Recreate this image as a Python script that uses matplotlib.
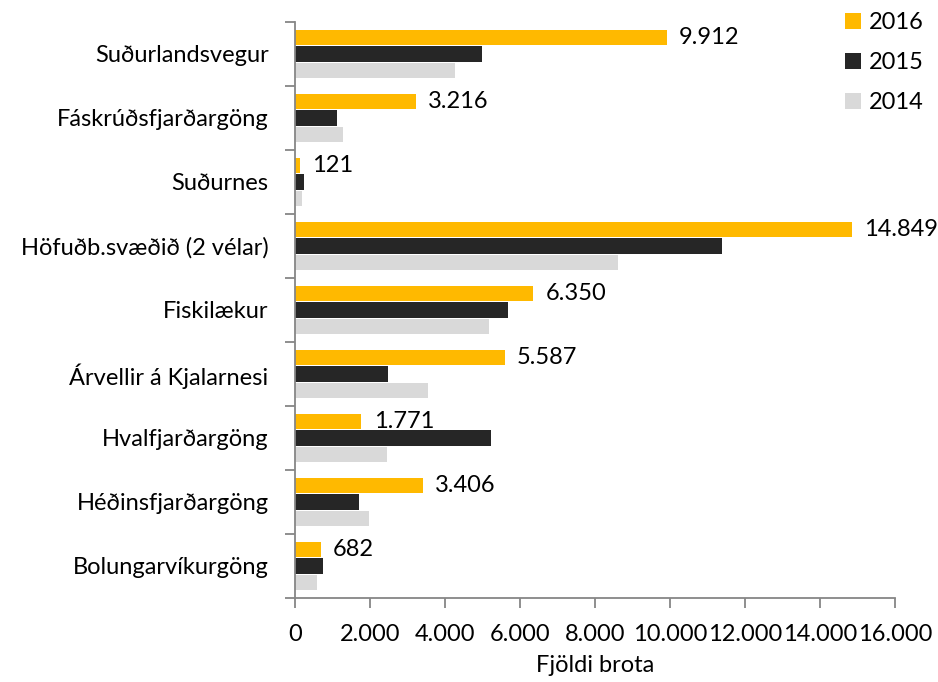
import matplotlib
matplotlib.use("Agg")
import matplotlib.pyplot as plt
import numpy as np
from matplotlib.ticker import FuncFormatter, FixedLocator

plt.rcParams['font.family'] = ['Lato', 'DejaVu Sans']

# data (top to bottom)
categories = ['Suðurlandsvegur', 'Fáskrúðsfjarðargöng', 'Suðurnes',
              'Höfuðb.svæðið (2 vélar)', 'Fiskilækur', 'Árvellir á Kjalarnesi',
              'Hvalfjarðargöng', 'Héðinsfjarðargöng', 'Bolungarvíkurgöng']
values_2016 = [9912, 3216, 121, 14849, 6350, 5587, 1771, 3406, 682]
values_2015 = [4995, 1128, 232, 11390, 5672, 2472, 5218, 1707, 755]
values_2014 = [4267, 1271, 179, 8600, 5173, 3555, 2445, 1982, 595]
series_names = ['2016', '2015', '2014']
colors = ['#FFB900', '#262626', '#D9D9D9']

FS = 17

fig = plt.figure(figsize=(9.38, 6.82), dpi=100)
ax = fig.add_axes([295 / 938, 1 - 598 / 682, 600 / 938, 576 / 682])

n = len(categories)
y = np.arange(n)[::-1]  # first category on top
pitch = 0.255
height = 0.235
series = [values_2016, values_2015, values_2014]
for i, (vals, name, c) in enumerate(zip(series, series_names, colors)):
    ax.barh(y + (1 - i) * pitch, vals, height=height, color=c, label=name)

# value labels for 2016
for yy, v in zip(y, values_2016):
    txt = f"{v:,}".replace(',', '.')
    ax.annotate(txt, (v, yy + pitch), xytext=(9, 0), textcoords='offset points',
                va='center', ha='left', fontsize=FS, color='black')

ax.set_xlim(0, 16000)
ax.set_ylim(-0.5, n - 0.5)
ax.set_xticks(np.arange(0, 16001, 2000))
ax.xaxis.set_major_formatter(FuncFormatter(lambda v, p: f"{int(v):,}".replace(',', '.')))
ax.set_yticks(y)
ax.set_yticklabels(categories)
ax.yaxis.set_minor_locator(FixedLocator(np.arange(-0.5, n, 1.0)))
ax.tick_params(axis='y', which='major', length=0, pad=19, labelsize=FS)
ax.tick_params(axis='y', which='minor', length=7, width=1.3, color='#868686')
ax.tick_params(axis='x', length=7, width=1.3, color='#868686', labelsize=FS, pad=12)

for s in ['top', 'right']:
    ax.spines[s].set_visible(False)
for s in ['left', 'bottom']:
    ax.spines[s].set_color('#868686')
    ax.spines[s].set_linewidth(1.3)

ax.set_xlabel('Fjöldi brota', fontsize=FS, labelpad=7)

leg = ax.legend(loc='upper left', bbox_to_anchor=(836 / 938, 1 - 3 / 682),
                bbox_transform=fig.transFigure, frameon=False, fontsize=FS,
                handlelength=0.65, handleheight=0.65, handletextpad=0.35,
                labelspacing=0.8, borderaxespad=0)

fig.savefig('out.png', dpi=100)
